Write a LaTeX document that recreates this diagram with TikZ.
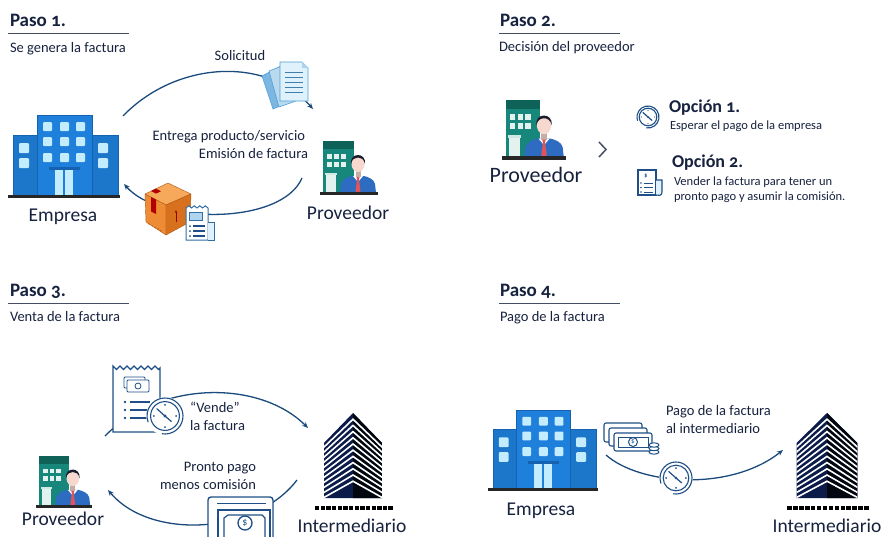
\documentclass[tikz,border=0pt]{standalone}
\usepackage{fontspec}
\setmainfont{Carlito}
\newfontfamily\titlefont{Carlito}[Numbers=OldStyle]
\usetikzlibrary{arrows.meta}

\definecolor{ink}{HTML}{17223F}
\definecolor{flow}{HTML}{1B4A7C}
\definecolor{bldg}{HTML}{1E80DA}
\definecolor{bldgdark}{HTML}{1462B0}
\definecolor{win}{HTML}{C4ECFF}
\definecolor{tealb}{HTML}{16877A}
\definecolor{tealdark}{HTML}{0E6258}
\definecolor{suit}{HTML}{2E6CC2}
\definecolor{skin}{HTML}{F6D8CF}
\definecolor{tie}{HTML}{E0555A}
\definecolor{hair}{HTML}{1B1D2E}
\definecolor{navy}{HTML}{0B1C4A}
\definecolor{paper}{HTML}{DFF1FB}
\definecolor{paperline}{HTML}{4F9FD6}
\definecolor{icon}{HTML}{1E4F86}
\definecolor{boxtop}{HTML}{F6A85B}
\definecolor{boxleft}{HTML}{EE8C35}
\definecolor{boxright}{HTML}{D8711E}

\tikzset{
  title/.style={font=\titlefont\bfseries\fontsize{19}{22}\selectfont, anchor=base west},
  sub/.style={font=\fontsize{14.5}{17}\selectfont, anchor=base west},
  lbl/.style={font=\fontsize{14.5}{17}\selectfont},
  big/.style={font=\fontsize{19.5}{23}\selectfont, anchor=base},
  small/.style={font=\fontsize{12.5}{15}\selectfont, anchor=base west},
  opt/.style={font=\titlefont\bfseries\fontsize{18}{21}\selectfont, anchor=base west},
  rulebar/.style={draw=ink!80, line width=1.6pt},
  flow/.style={draw=flow, line width=1.3pt, -{Stealth[length=6pt,width=5pt]}},
  iconline/.style={draw=icon, line width=1.2pt},
  % office building of the company
  empresa/.pic={
    \filldraw[fill=bldg!92!black, draw=bldgdark, line width=.6pt] (5,23) rectangle (110,84);
    \filldraw[fill=bldg, draw=bldgdark, line width=.6pt] (29,3) rectangle (84,84);
    \foreach \x in {35,52,68} \foreach \y in {10,25,41}
      \fill[win, rounded corners=1] (\x,\y) rectangle ++(9,9);
    \foreach \x in {11,90} \foreach \y in {31,46}
      \fill[win, rounded corners=1] (\x,\y) rectangle ++(10,10);
    \fill[bldgdark] (41,55) rectangle (72,58);
    \fill[win] (47,58) rectangle (55,84);
    \fill[win] (57,58) rectangle (65,84);
    \fill[black!85] (0,83) rectangle (112,86);
  },
  % supplier: small building with a person in front
  proveedor/.pic={
    \fill[tealb] (5,1) rectangle (36,53);
    \fill[tealdark] (5,1) rectangle (36,9);
    \foreach \x in {9,16,23} \foreach \y in {14,22}
      \fill[white!88!tealb] (\x,\y) rectangle ++(5,5);
    \fill[white!80!tealb] (7,33) rectangle (19,35);
    \fill[white!88!tealb] (8,35) rectangle (18,53);
    \fill[suit] (22,53) -- (23,44) .. controls (24,39) and (30,37) .. (34,36) -- (46,36)
      .. controls (50,37) and (56,39) .. (57,44) -- (58,53) -- cycle;
    \fill[white] (35,36) -- (40,42) -- (45,36) -- cycle;
    \fill[skin!80!black] (37.5,29) rectangle (42.5,37);
    \fill[tie] (38.5,37) -- (41.5,37) -- (41,40) -- (42.5,51) -- (40,53) -- (37.5,51) -- (39,40) -- cycle;
    \fill[skin] (40,24) ellipse (6.5 and 8);
    \fill[hair] (33,24) .. controls (31.5,12) and (48.5,12) .. (47,24)
      .. controls (46,19) and (43,17.5) .. (40,17.5)
      .. controls (37,17.5) and (34,19) .. (33,24) -- cycle;
    \fill[black!85] (2,52) rectangle (60,55);
  },
  % striped tower of the intermediary
  torre/.pic={
    \begin{scope}
      \clip (0,0) -- (29,30) -- (29,85) -- (-29,85) -- (-29,30) -- cycle;
      \fill[navy] (-30,-1) rectangle (30,86);
      \fill[black!80!navy] (0,-1) rectangle (30,86);
      \foreach \k in {1,...,11} {
        \pgfmathsetmacro\c{6.2*\k}
        \pgfmathsetmacro\e{30+5*\k}
        \draw[white, line width=1.6pt] (-30,\e) -- (0,\c) -- (30,\e);
      }
    \end{scope}
    \foreach \i in {0,...,13}
      \fill[black] (-38+\i*5.65,93) rectangle ++(4.4,4);
  },
  % clock, unit radius
  reloj/.pic={
    \fill[white] (0,0) circle (1.05);
    \draw[icon, line width=1.1pt] (0,0) circle (0.8);
    \draw[icon, line width=1.1pt] (100:1) arc (100:-200:1);
    \foreach \a in {0,90,180,270} \fill[icon] (\a:0.62) circle (0.06);
    \draw[icon, line width=1.2pt, line cap=round] (-0.45,-0.4) -- (0,0) -- (0.35,0.3);
    \fill[icon] (0,0) circle (0.09);
  }
}

\begin{document}
\begin{tikzpicture}[x=1pt, y=-1pt, every node/.style={inner sep=0pt, outer sep=0pt, text=ink}]
\useasboundingbox (0,0) rectangle (881,536);
\fill[white] (0,0) rectangle (881,536);

% ---------------- Step 1 ----------------
\node[title] (t1) at (10,26) {Paso 1.};
\draw[rulebar] (8,33.5) -- (129,33.5);
\node[sub] (s1) at (10,52) {Se genera la factura};

\coordinate (a1s) at (123,116);
\coordinate (a1e) at (313,109);
\coordinate (a2s) at (302,178);
\coordinate (a2e) at (124,184);
\draw[flow] (a1s) .. controls (175,62) and (265,55) .. (a1e);
\draw[flow] (a2s) .. controls (282,225) and (160,225) .. (a2e);

\pic at (8,112) {empresa};
\node[big] (emp1) at (63,221) {Empresa};
\pic at (318,140) {proveedor};
\node[big] (prov1) at (348,219) {Proveedor};

\node[lbl, anchor=base] (sol) at (240,60) {Solicitud};
\node[lbl, anchor=base east] (ent) at (305,140) {Entrega producto/servicio};
\node[lbl, anchor=base east] (emi) at (308,158) {Emisión de factura};

% stack of request sheets
\filldraw[fill=paperline!75!white, draw=paperline, line width=.6pt] (262,76) -- (281,66) -- (292,101) -- (273,109) -- cycle;
\filldraw[fill=paperline!40!white, draw=paperline, line width=.6pt] (269,71) -- (287,64) -- (296,101) -- (279,107) -- cycle;
\filldraw[fill=paper, draw=paperline, line width=.7pt] (280,62) -- (302,62) -- (308,68) -- (308,101) -- (280,101) -- cycle;
\fill[paperline!45!white] (302,62) -- (302,68) -- (308,68) -- cycle;
\foreach \y in {72,77,82,87,92}
  \draw[paperline!80!black, line width=1pt] (285,\y) -- (303,\y);

% parcel box
\filldraw[fill=boxtop, draw=boxright!80!black, line width=.4pt] (168,183) -- (145,194) -- (166,205) -- (191,194) -- cycle;
\filldraw[fill=boxleft, draw=boxright!80!black, line width=.4pt] (145,194) -- (166,205) -- (166,235) -- (146,222) -- cycle;
\filldraw[fill=boxright, draw=boxright!80!black, line width=.4pt] (166,205) -- (191,194) -- (190,222) -- (166,235) -- cycle;
\fill[red!70!black] (151,191) -- (156,188.6) -- (161,191.2) -- (156,193.6) -- cycle;
\fill[red!70!black] (151,197) -- (156,199.6) -- (156,214) -- (151,211.4) -- cycle;
\draw[red!60!black, line width=1pt, -{Stealth[length=3pt]}] (176,222) -- (176,210);
\foreach \i in {0,...,4} \fill[boxright!70!black] (149+\i*3,224+\i*1.6) circle (0.6);

% invoice in front of the box
\filldraw[fill=white, draw=icon!60!paperline, line width=1pt]
  (186,240) -- (186,208) -- (188.75,205.8) -- (191.5,208) -- (194.25,205.8) -- (197,208)
  -- (199.75,205.8) -- (202.5,208) -- (205.25,205.8) -- (208,208) -- (208,240) -- cycle;
\filldraw[fill=paper, draw=icon!60!paperline, line width=1pt] (208,222) -- (214,222) -- (214,240) -- (208,240);
\filldraw[fill=paperline!45!white, draw=icon!60!paperline, line width=.8pt] (189,212) rectangle (202,220);
\foreach \y in {226,231,236} {
  \fill[icon] (190,\y) circle (1);
  \draw[icon, line width=1.4pt] (193,\y) -- (205,\y);
}

% ---------------- Step 2 ----------------
\node[title] (t2) at (500,26) {Paso 2.};
\draw[rulebar] (499,33.5) -- (620,33.5);
\node[sub] (s2) at (499,51) {Decisión del proveedor};

\pic[scale=1.1] at (500,99) {proveedor};
\node[font=\fontsize{22}{26}\selectfont, anchor=base] (prov2) at (536,182) {Proveedor};
\draw[draw=ink!80, line width=1.5pt] (599,142) -- (606,149.5) -- (599,157);

\pic[scale=11] at (648,117) {reloj};
\node[opt] (op1) at (669,112) {Opción 1.};
\node[small] (op1t) at (670,129) {Esperar el pago de la empresa};

% invoice icon
\filldraw[fill=white, draw=icon, line width=1.1pt] (638,170) -- (656,170) -- (656,195) -- (638,195) -- cycle;
\filldraw[fill=paper, draw=icon, line width=1.1pt] (656,180) -- (662,180) -- (662,192) .. controls (662,196) and (658,196) .. (656,195);
\node[font=\bfseries\fontsize{6}{6}\selectfont, text=icon] (dol2) at (646,176) {\$};
\foreach \y in {183,187.5,192} {
  \fill[icon] (641,\y) circle (.8);
  \draw[icon, line width=1pt] (643.5,\y) -- (653,\y);
}
\node[opt] (op2) at (672,167) {Opción 2.};
\node[small] (op2a) at (674,185) {Vender la factura para tener un};
\node[small] (op2b) at (674,200) {pronto pago y asumir la comisión.};

% ---------------- Step 3 ----------------
\node[title] (t3) at (10,296) {Paso 3.};
\draw[rulebar] (8,303.5) -- (129,303.5);
\node[sub] (s3) at (10,321) {Venta de la factura};

\coordinate (b1s) at (105,436);
\coordinate (b1e) at (308,428);
\coordinate (b2s) at (297,480);
\coordinate (b2e) at (108,490);
\draw[flow] (b1s) .. controls (160,380) and (260,380) .. (b1e);
\draw[flow] (b2s) .. controls (255,535) and (150,540) .. (b2e);

% receipt with money and clock
\filldraw[fill=white, draw=icon, line width=1.3pt]
  (113,432) -- (113,366) -- (116.5,369.5) -- (120,366) -- (123.5,369.5) -- (127,366) -- (130.5,369.5)
  -- (134,366) -- (137.5,369.5) -- (141,366) -- (144.5,369.5) -- (148,366) -- (151.5,369.5)
  -- (155,366) -- (158.5,369.5) -- (160,368) -- (160,432) -- cycle;
\filldraw[fill=white, draw=icon, line width=.9pt, rounded corners=1] (124,377) rectangle (145,388);
\filldraw[fill=white, draw=icon, line width=.9pt, rounded corners=1] (127,380) rectangle (149,392);
\draw[icon, line width=.8pt] (138,386) circle (3);
\foreach \y in {402,410,418} {
  \fill[icon] (125,\y) circle (1.3);
  \draw[icon, line width=1.8pt] (130,\y) -- (150,\y);
}
\pic[scale=18] at (165,416) {reloj};

\node[lbl, anchor=base west] (vend) at (190,412) {“Vende”};
\node[lbl, anchor=base west] (vend2) at (190,430) {la factura};

\pic at (353,413) {torre};
\node[big] (int3) at (352,532) {Intermediario};

% banknote
\filldraw[fill=white, draw=icon, line width=1.4pt, rounded corners=3] (208,545) -- (208,497) -- (273,497) -- (273,545);
\draw[icon, line width=1.4pt] (217,503.5) -- (266,503.5);
\filldraw[fill=white, draw=icon, line width=1.4pt] (218,545) -- (218,510) -- (270,510) -- (270,545);
\draw[icon, line width=1.2pt] (224,545) -- (224,518) .. controls (226,516) and (226,516) .. (228,515) -- (262,515)
  .. controls (264,516) and (264,516) .. (265,518) -- (265,545);
\draw[icon, line width=1.3pt] (245,523) circle (7);
\node[font=\fontsize{10}{10}\selectfont, text=icon] (dol3) at (245,523) {\$};

\node[lbl, anchor=base east] (pp1) at (256,471) {Pronto pago};
\node[lbl, anchor=base east] (pp2) at (256,489) {menos comisión};

\pic[scale=0.97] at (34,455) {proveedor};
\node[big] (prov3) at (63,525) {Proveedor};

% ---------------- Step 4 ----------------
\node[title] (t4) at (500,296) {Paso 4.};
\draw[rulebar] (499,303.5) -- (620,303.5);
\node[sub] (s4) at (500,321) {Pago de la factura};

\coordinate (c1s) at (606,455);
\coordinate (c1e) at (783,450);
\draw[flow] (c1s) .. controls (640,485) and (730,492) .. (c1e);

\pic[scale=0.98] at (488,407) {empresa};
\node[big] (emp4) at (541,515) {Empresa};

% stack of banknotes and coins
\filldraw[fill=white, draw=icon, line width=1.1pt, rounded corners=2] (604,423) rectangle (642,442);
\filldraw[fill=white, draw=icon, line width=1.1pt, rounded corners=2] (609,428) rectangle (647,446);
\filldraw[fill=white, draw=icon, line width=1.1pt, rounded corners=2] (614,433) rectangle (652,451);
\draw[icon, line width=.9pt] (618,437) rectangle (648,447);
\draw[icon, line width=1pt] (633,442) circle (4.5);
\node[font=\fontsize{7}{7}\selectfont, text=icon] (dol4) at (633,442) {\$};
\foreach \y in {452,448.5,445}
  \filldraw[fill=white, draw=icon, line width=1pt] (654,\y) ellipse (5 and 2.2);

\pic[scale=16] at (676,478) {reloj};

\node[lbl, anchor=base west] (pg1) at (666,415) {Pago de la factura};
\node[lbl, anchor=base west] (pg2) at (666,433) {al intermediario};

\pic[xscale=1.05] at (827,413) {torre};
\node[big] (int4) at (827,532) {Intermediario};

\end{tikzpicture}
\end{document}
